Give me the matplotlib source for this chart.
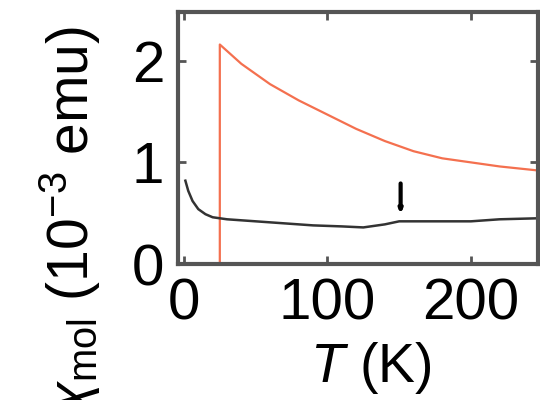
import matplotlib
matplotlib.use("Agg")
import matplotlib.pyplot as plt

plt.rcParams['font.family'] = ['Liberation Sans', 'DejaVu Sans']
plt.rcParams['mathtext.fontset'] = 'custom'
plt.rcParams['mathtext.rm'] = 'Liberation Sans'
plt.rcParams['mathtext.it'] = 'Liberation Sans:italic'

# red curve (with the step at Tc ~ 25 K)
t_red = [25, 25, 40, 60, 80, 100, 120, 140, 160, 180, 200, 220, 247]
chi_red = [0.0, 2.16, 1.97, 1.77, 1.61, 1.47, 1.33, 1.21, 1.11, 1.04, 1.00, 0.96, 0.92]

# black curve
t_blk = [1, 3, 6, 10, 15, 20, 30, 50, 70, 90, 110, 125, 140, 150, 180, 200, 220, 247]
chi_blk = [0.82, 0.72, 0.62, 0.54, 0.49, 0.46, 0.44, 0.42, 0.40, 0.38, 0.37, 0.36, 0.39, 0.42, 0.42, 0.42, 0.44, 0.45]

# arrow marker
arrow_t = 151
arrow_from = 0.82
arrow_to = 0.46

fig = plt.figure(figsize=(5.4, 4.0), dpi=100)
ax = fig.add_axes([0.33, 0.34, 0.667, 0.63])

ax.plot(t_red, chi_red, color='#f4704f', lw=1.6)
ax.plot(t_blk, chi_blk, color='#333333', lw=1.8)
ax.annotate('', xy=(arrow_t, arrow_to), xytext=(arrow_t, arrow_from),
            arrowprops=dict(arrowstyle='-|>,head_width=0.08,head_length=0.2',
                            color='black', lw=3))

ax.set_xlim(-4, 247)
ax.set_ylim(0, 2.48)
ax.set_xticks([0, 100, 200])
ax.set_yticks([0, 1, 2])
ax.tick_params(direction='in', length=6, width=2, color='#555555',
               labelsize=42, top=True, right=True, pad=10)
for s in ax.spines.values():
    s.set_linewidth(3)
    s.set_color('#555555')

ax.set_xlabel('$T$ (K)', fontsize=40)
ax.xaxis.set_label_coords(0.535, -0.30)
fig.text(0.13, 0.935, r'$\chi_{\rm mol}$ (10$^{-3}$ emu)', rotation=90,
         ha='center', va='top', fontsize=41)

fig.savefig('out.png', dpi=100)
